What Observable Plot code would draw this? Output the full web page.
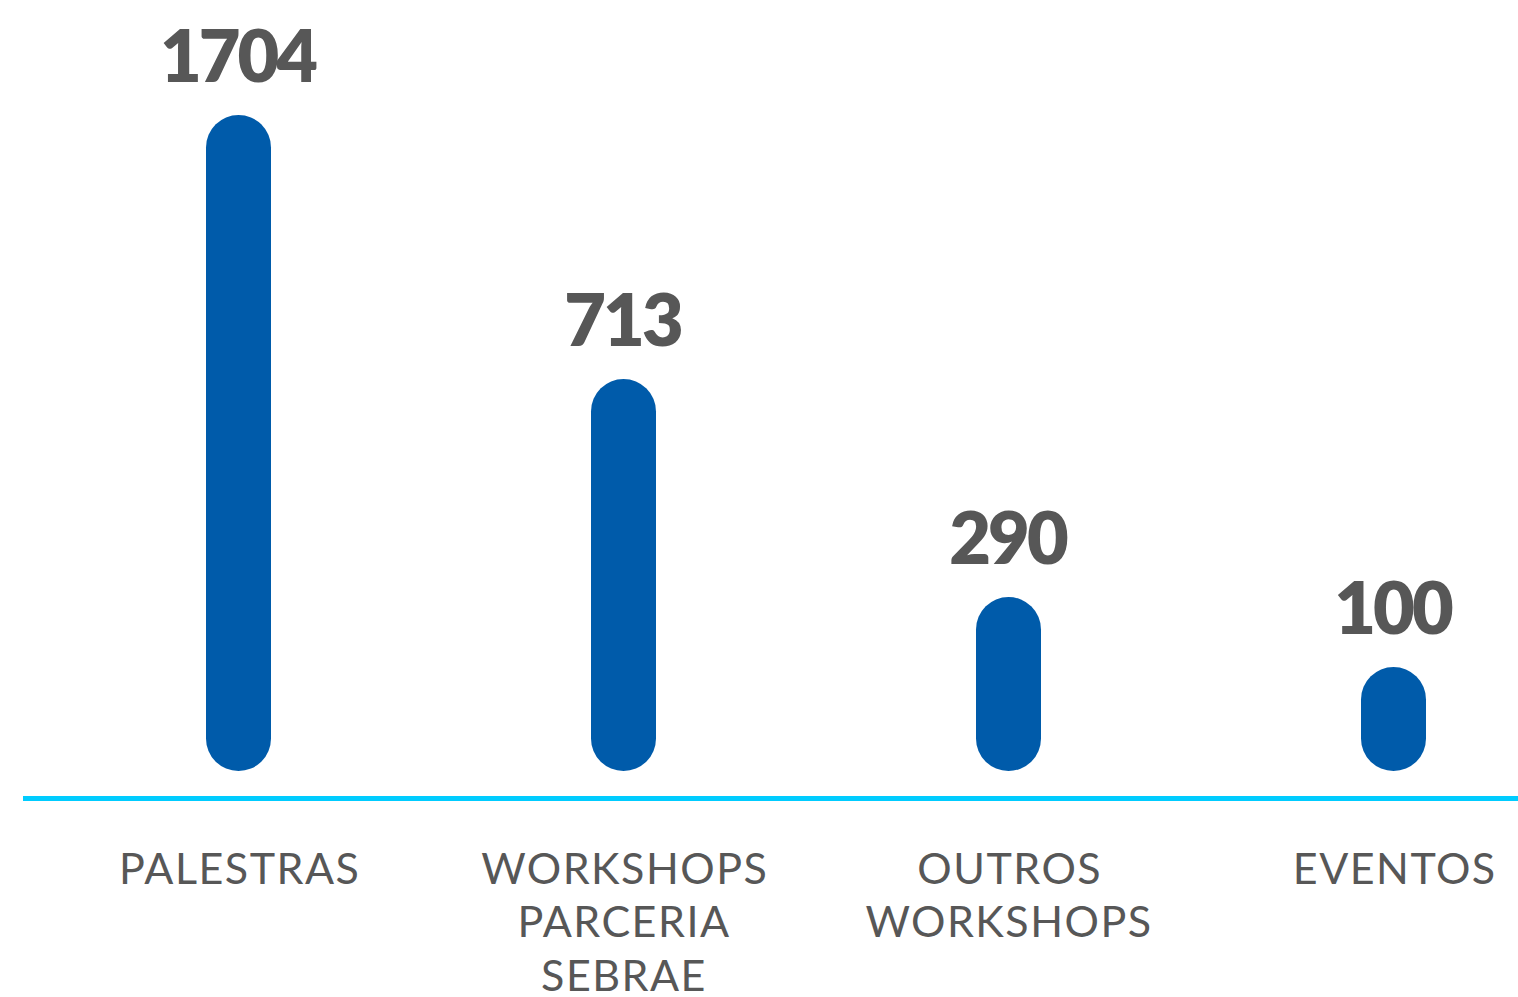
<!DOCTYPE html>
<html>
<head>
<meta charset="utf-8">
<script src="https://cdn.jsdelivr.net/npm/d3@7"></script>
<script src="https://cdn.jsdelivr.net/npm/@observablehq/plot@0.6"></script>
<style>
  html, body { margin: 0; padding: 0; background: #ffffff; }
  #chart svg { display: block; overflow: visible; }
</style>
</head>
<body>
<div id="chart"></div>
<script>
// Data
const categories = ["PALESTRAS", "WORKSHOPS\nPARCERIA\nSEBRAE", "OUTROS\nWORKSHOPS", "EVENTOS"];
const values = [1704, 713, 290, 100];

const data = categories.map((c, i) => ({category: c, value: values[i]}));

// The picture's bar lengths are not proportional: a piecewise scale through the values
const yDomain = [0, ...values.slice().sort((a, b) => a - b)];

const chart = Plot.plot({
  width: 1518,
  height: 997,
  marginTop: 0,
  marginRight: 0,
  marginBottom: 0,
  marginLeft: 23,
  style: {fontFamily: "Lato, 'Open Sans', sans-serif", background: "transparent"},
  x: {type: "band", domain: categories, range: [45.5, 1585.5], padding: 0, axis: null},
  y: {type: "linear", domain: yDomain, range: [771, 667, 597, 379, 115], axis: null},
  marks: [
    Plot.ruleY([0], {dy: 27, stroke: "#00CCFF", strokeWidth: 5}),
    Plot.barY(data, {
      x: "category", y: "value",
      fill: "#005BAA", insetLeft: 160, insetRight: 160, rx: 32.5
    }),
    Plot.text(data, {
      x: "category", y: "value", text: d => String(d.value),
      lineAnchor: "bottom", dy: -34,
      fontSize: 72, fontWeight: 800, fill: "#575757"
    }),
    Plot.text(data, {
      x: "category", y: 0, text: "category",
      lineAnchor: "top", dy: 74, lineHeight: 1.245,
      fontSize: 43, fontWeight: 400, fill: "#575757"
    })
  ]
});
// letter spacing to match the reference's type widths
const textGroups = d3.select(chart).selectAll('g[aria-label="text"]').nodes();
if (textGroups[0]) d3.select(textGroups[0]).attr("letter-spacing", "-3px").selectAll("text").attr("dx", "-1.5");
if (textGroups[1]) d3.select(textGroups[1]).attr("letter-spacing", "1.5px").selectAll("text").attr("dx", "0.75");
document.getElementById("chart").appendChild(chart);
</script>
</body>
</html>
